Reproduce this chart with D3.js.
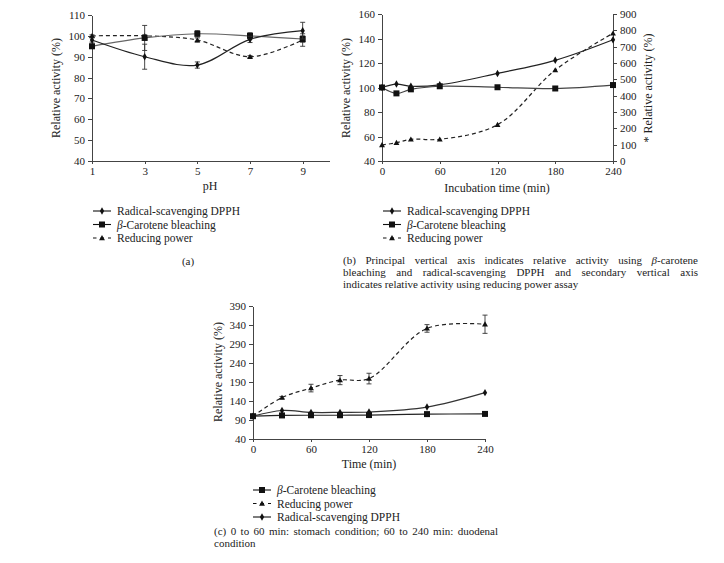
<!DOCTYPE html>
<html>
<head>
<meta charset="utf-8">
<script src="https://d3js.org/d3.v7.min.js"></script>
<style>
  body { margin: 0; background: #fff; }
  text { font-family: "Liberation Serif", "DejaVu Serif", serif; fill: #222; }
  .axis path, .axis line { stroke: #444; shape-rendering: crispEdges; }
  .axis text { font-size: 11px; }
</style>
</head>
<body>
<script>

// panel (a): effect of pH
var pH = [1, 3, 5, 7, 9];
var aDPPH = [98, 90, 86, 98.3, 102.5];
var aDPPHErr = [1, 6, 1.5, 1.5, 4];
var aCarot = [95, 99, 101, 100, 98.5];
var aCarotErr = [1, 6, 1.5, 1.5, 1.5];
var aRed = [100, 100, 98, 90, 98];
var aRedErr = [0.5, 0.5, 1, 0.5, 3];
var aYTicks = [40, 50, 60, 70, 80, 90, 100, 110];

// panel (b): incubation time
var bTime = [0, 15, 30, 60, 120, 180, 240];
var bDPPH = [100, 102.8, 101, 102.2, 111.5, 122.2, 139];
var bCarot = [100, 95.2, 98.5, 101, 100.2, 99.2, 102];
var bRed = [98, 112, 133, 133, 222, 557, 782];
var bYTicks = [40, 60, 80, 100, 120, 140, 160];
var bY2Ticks = [0, 100, 200, 300, 400, 500, 600, 700, 800, 900];

// panel (c): simulated digestion
var cTime = [0, 30, 60, 90, 120, 180, 240];
var cCarot = [100, 102, 102.5, 102.5, 103, 105.5, 106];
var cRed = [100, 149, 174, 195, 199, 331, 342];
var cRedErr = [0, 3, 10, 12, 14, 10, 24];
var cDPPH = [100, 115, 110, 110, 111, 124, 162];
var cYTicks = [40, 90, 140, 190, 240, 290, 340, 390];
var timeTicks = [0, 60, 120, 180, 240];

var svg = d3.select("body").append("svg")
  .attr("width", 724).attr("height", 563);

function series(xs, ys, errs) {
  return xs.map(function(x, i) { return {x: x, y: ys[i], e: errs ? errs[i] : 0}; });
}

function drawMarker(g, type, cx, cy) {
  if (type == "diamond") {
    g.append("path").attr("d", d3.symbol().type(d3.symbolDiamond).size(16)())
      .attr("transform", "translate(" + cx + "," + cy + ")").attr("fill", "#111");
  } else if (type == "square") {
    g.append("rect").attr("x", cx - 3).attr("y", cy - 3)
      .attr("width", 6).attr("height", 6).attr("fill", "#111");
  } else {
    g.append("path").attr("d", d3.symbol().type(d3.symbolTriangle).size(15)())
      .attr("transform", "translate(" + cx + "," + (cy + 0.5) + ")").attr("fill", "#111");
  }
}

function drawSeries(g, x, y, data, opt) {
  var line = d3.line()
    .x(function(d) { return x(d.x); })
    .y(function(d) { return y(d.y); })
    .curve(d3.curveCatmullRom.alpha(0.5));
  g.append("path").datum(data)
    .attr("d", line)
    .attr("fill", "none")
    .attr("stroke", opt.color)
    .attr("stroke-width", 1.2)
    .attr("stroke-dasharray", opt.dash ? "4,3" : null);
  data.forEach(function(d) {
    if (d.e > 0) {
      var y0 = y(d.y - d.e), y1 = y(d.y + d.e), cx = x(d.x);
      g.append("line").attr("x1", cx).attr("x2", cx).attr("y1", y0).attr("y2", y1)
        .attr("stroke", "#333").attr("stroke-width", 0.9);
      [y0, y1].forEach(function(yy) {
        g.append("line").attr("x1", cx - 2.5).attr("x2", cx + 2.5).attr("y1", yy).attr("y2", yy)
          .attr("stroke", "#333").attr("stroke-width", 0.9);
      });
    }
    drawMarker(g, opt.marker, x(d.x), y(d.y));
  });
}

function legend(x0, y0, items) {
  items.forEach(function(it, i) {
    var yy = y0 + i * 13.5;
    var g = svg.append("g");
    g.append("line").attr("x1", x0).attr("x2", x0 + 18).attr("y1", yy).attr("y2", yy)
      .attr("stroke", "#111").attr("stroke-width", 1.1)
      .attr("stroke-dasharray", it.dash ? "3.5,4" : null);
    drawMarker(g, it.marker, x0 + 9, yy);
    var t = svg.append("text").attr("x", x0 + 24).attr("y", yy + 4).style("font-size", "11.5px");
    if (it.beta) {
      t.append("tspan").style("font-style", "italic").text("β");
      t.append("tspan").text(it.label);
    } else {
      t.text(it.label);
    }
  });
}

// justified caption: spread the spare room over the word gaps
function caption(x0, y0, width, lines) {
  lines.forEach(function(ln, i) {
    var t = svg.append("text").attr("x", x0).attr("y", y0 + i * 12).style("font-size", "11px")
      .attr("xml:space", "preserve");
    ln.forEach(function(part) {
      var s = t.append("tspan").text(part.t);
      if (part.i) s.style("font-style", "italic");
    });
    if (i < lines.length - 1) {
      var full = ln.map(function(p) { return p.t; }).join("");
      var gaps = full.split(" ").length - 1;
      var natural = t.node().getComputedTextLength();
      t.style("word-spacing", ((width - natural) / gaps) + "px");
    }
  });
}

// ---------- panel (a) ----------
var ax = d3.scaleLinear().domain([1, 10]).range([92, 329]);
var ay = d3.scaleLinear().domain([40, 110]).range([161, 15]);
svg.append("g").attr("class", "axis").attr("transform", "translate(0,161)")
  .call(d3.axisBottom(ax).tickValues(pH).tickSize(3).tickSizeOuter(0));
svg.append("g").attr("class", "axis").attr("transform", "translate(92,0)")
  .call(d3.axisLeft(ay).tickValues(aYTicks).tickSize(4).tickSizeOuter(0));
svg.append("text").attr("x", 210).attr("y", 190).attr("text-anchor", "middle")
  .style("font-size", "12px").text("pH");
svg.append("text").attr("transform", "translate(60,88) rotate(-90)").attr("text-anchor", "middle")
  .style("font-size", "12px").text("Relative activity (%)");
var ga = svg.append("g");
drawSeries(ga, ax, ay, series(pH, aRed, aRedErr), {color: "#222", dash: true, marker: "triangle"});
drawSeries(ga, ax, ay, series(pH, aCarot, aCarotErr), {color: "#666", marker: "square"});
drawSeries(ga, ax, ay, series(pH, aDPPH, aDPPHErr), {color: "#222", marker: "diamond"});
legend(93, 211, [
  {label: "Radical-scavenging DPPH", marker: "diamond"},
  {label: "-Carotene bleaching", marker: "square", beta: true},
  {label: "Reducing power", marker: "triangle", dash: true}
]);
svg.append("text").attr("x", 188).attr("y", 265).attr("text-anchor", "middle")
  .style("font-size", "11px").text("(a)");

// ---------- panel (b) ----------
var bx = d3.scaleLinear().domain([0, 240]).range([382, 613]);
var by = d3.scaleLinear().domain([40, 160]).range([161, 14]);
var by2 = d3.scaleLinear().domain([0, 900]).range([161, 14]);
svg.append("g").attr("class", "axis").attr("transform", "translate(0,161)")
  .call(d3.axisBottom(bx).tickValues(timeTicks).tickSize(3).tickSizeOuter(0));
svg.append("g").attr("class", "axis").attr("transform", "translate(382,0)")
  .call(d3.axisLeft(by).tickValues(bYTicks).tickSize(4).tickSizeOuter(0));
svg.append("g").attr("class", "axis").attr("transform", "translate(613,0)")
  .call(d3.axisRight(by2).tickValues(bY2Ticks).tickSize(4).tickSizeOuter(0));
svg.append("text").attr("x", 497).attr("y", 192).attr("text-anchor", "middle")
  .style("font-size", "12px").text("Incubation time (min)");
svg.append("text").attr("transform", "translate(350,88) rotate(-90)").attr("text-anchor", "middle")
  .style("font-size", "12px").text("Relative activity (%)");
svg.append("text").attr("transform", "translate(652,88) rotate(-90)").attr("text-anchor", "middle")
  .style("font-size", "12px").text("* Relative activity (%)");
var gb = svg.append("g");
drawSeries(gb, bx, by2, series(bTime, bRed), {color: "#222", dash: true, marker: "triangle"});
drawSeries(gb, bx, by, series(bTime, bCarot), {color: "#444", marker: "square"});
drawSeries(gb, bx, by, series(bTime, bDPPH), {color: "#222", marker: "diamond"});
legend(383, 211, [
  {label: "Radical-scavenging DPPH", marker: "diamond"},
  {label: "-Carotene bleaching", marker: "square", beta: true},
  {label: "Reducing power", marker: "triangle", dash: true}
]);
caption(343, 264, 355, [
  [{t: "(b) Principal vertical axis indicates relative activity using "}, {t: "β", i: true}, {t: "-carotene"}],
  [{t: "bleaching and radical-scavenging DPPH and secondary vertical axis"}],
  [{t: "indicates relative activity using reducing power assay"}]
]);

// ---------- panel (c) ----------
var cx = d3.scaleLinear().domain([0, 240]).range([253, 485]);
var cy = d3.scaleLinear().domain([40, 390]).range([439, 306]);
svg.append("g").attr("class", "axis").attr("transform", "translate(0,439)")
  .call(d3.axisBottom(cx).tickValues(timeTicks).tickSize(3).tickSizeOuter(0));
svg.append("g").attr("class", "axis").attr("transform", "translate(253,0)")
  .call(d3.axisLeft(cy).tickValues(cYTicks).tickSize(4).tickSizeOuter(0));
svg.append("text").attr("x", 369).attr("y", 468).attr("text-anchor", "middle")
  .style("font-size", "12px").text("Time (min)");
svg.append("text").attr("transform", "translate(222,372) rotate(-90)").attr("text-anchor", "middle")
  .style("font-size", "12px").text("Relative activity (%)");
var gc = svg.append("g");
drawSeries(gc, cx, cy, series(cTime, cRed, cRedErr), {color: "#222", dash: true, marker: "triangle"});
drawSeries(gc, cx, cy, series(cTime, cDPPH), {color: "#333", marker: "diamond"});
drawSeries(gc, cx, cy, series(cTime, cCarot), {color: "#222", marker: "square"});
legend(253, 490, [
  {label: "-Carotene bleaching", marker: "square", beta: true},
  {label: "Reducing power", marker: "triangle", dash: true},
  {label: "Radical-scavenging DPPH", marker: "diamond"}
]);
caption(214, 535, 284, [
  [{t: "(c) 0 to 60 min: stomach condition; 60 to 240 min: duodenal"}],
  [{t: "condition"}]
]);

</script>
</body>
</html>
